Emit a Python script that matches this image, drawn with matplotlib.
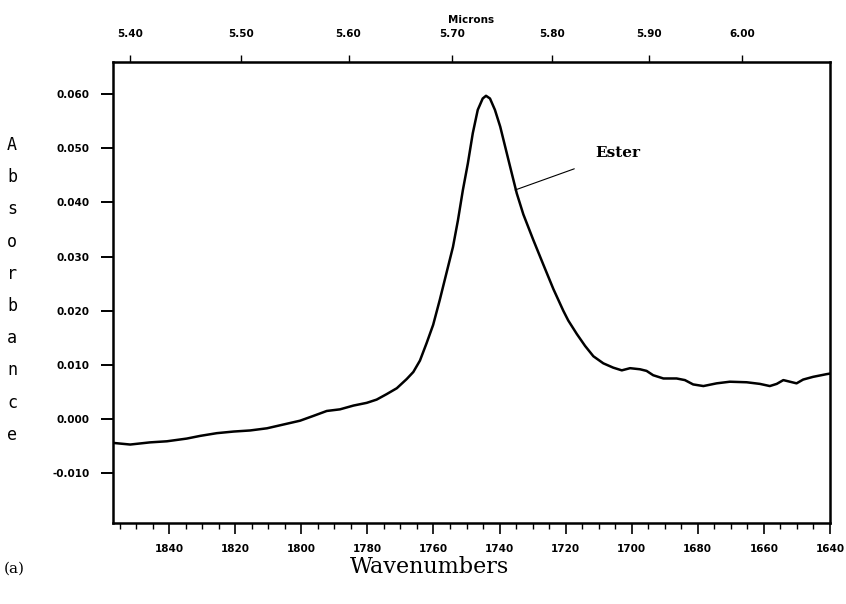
import matplotlib.pyplot as plt
from matplotlib.ticker import MultipleLocator

# spectrum
wavenumber = [1856.9, 1851.8, 1845.8, 1840.7, 1834.7, 1830.6, 1825.6, 1820.5,
              1815.5, 1810.4, 1805.4, 1800.4, 1796.3, 1792.3, 1788.3, 1784.2,
              1780.2, 1777.2, 1774.2, 1771.1, 1768.1, 1766.1, 1764.1, 1762.1,
              1760.1, 1758.1, 1756.1, 1754.1, 1752.6, 1751.1, 1749.6, 1748.1,
              1746.6, 1745.1, 1744.1, 1742.9, 1741.4, 1739.8, 1738.3, 1736.8,
              1734.8, 1732.8, 1729.8, 1726.8, 1723.7, 1720.7, 1719.2, 1716.6,
              1714.1, 1711.6, 1708.6, 1705.6, 1703.0, 1700.5, 1697.5, 1695.5,
              1693.5, 1690.4, 1686.4, 1683.9, 1681.4, 1678.3, 1674.3, 1670.3,
              1665.2, 1661.2, 1658.2, 1656.1, 1654.1, 1652.1, 1650.1, 1648.1,
              1645.1, 1641.0, 1640.0]
absorbance = [-0.0044, -0.0047, -0.0043, -0.0041, -0.0036, -0.0031, -0.0026,
              -0.0023, -0.0021, -0.0017, -0.0010, -0.0003, 0.0006, 0.0015,
              0.0018, 0.0025, 0.0030, 0.0036, 0.0046, 0.0057, 0.0074, 0.0087,
              0.0108, 0.0140, 0.0174, 0.0220, 0.0269, 0.0318, 0.0367, 0.0423,
              0.0472, 0.0528, 0.0571, 0.0592, 0.0597, 0.0592, 0.0571, 0.0540,
              0.0503, 0.0466, 0.0417, 0.0378, 0.0331, 0.0286, 0.0240, 0.0200,
              0.0182, 0.0157, 0.0135, 0.0116, 0.0103, 0.0095, 0.0090, 0.0094,
              0.0092, 0.0089, 0.0081, 0.0075, 0.0075, 0.0072, 0.0064, 0.0061,
              0.0066, 0.0069, 0.0068, 0.0065, 0.0061, 0.0065, 0.0072, 0.0069,
              0.0066, 0.0073, 0.0078, 0.0083, 0.0084]

wn_ticks = [1840, 1820, 1800, 1780, 1760, 1740, 1720, 1700, 1680, 1660, 1640]
abs_ticks = [-0.010, 0.000, 0.010, 0.020, 0.030, 0.040, 0.050, 0.060]
micron_ticks = [5.40, 5.50, 5.60, 5.70, 5.80, 5.90, 6.00]

tick_font = dict(family='DejaVu Sans', weight='bold', size=7.5)

fig = plt.figure(figsize=(8.46, 6.04), dpi=100)
ax = fig.add_axes([0.1336, 0.134, 0.8474, 0.763])

ax.plot(wavenumber, absorbance, color='black', linewidth=1.8,
        solid_joinstyle='round')

ax.set_xlim(1857, 1640)
ax.set_ylim(-0.0192, 0.0659)

ax.set_xticks(wn_ticks)
ax.set_xticklabels([str(t) for t in wn_ticks], fontdict=tick_font)
ax.xaxis.set_minor_locator(MultipleLocator(5))
ax.set_yticks(abs_ticks)
ax.set_yticklabels(['%.3f' % t for t in abs_ticks], fontdict=tick_font)

ax.tick_params(axis='x', which='major', direction='out', length=8, width=1.2, pad=7)
ax.tick_params(axis='x', which='minor', direction='out', length=4, width=1.0)
ax.tick_params(axis='y', which='major', direction='out', length=9, width=1.4, pad=8)
for s in ax.spines.values():
    s.set_linewidth(1.8)

# top axis in microns
top = ax.secondary_xaxis('top', functions=(lambda x: 1e4 / x, lambda x: 1e4 / x))
top.set_xticks(micron_ticks)
top.set_xticklabels(['%.2f' % t for t in micron_ticks], fontdict=tick_font)
top.tick_params(direction='out', length=5, width=1.0, pad=12)
top.set_xlabel('Microns', fontdict=tick_font, labelpad=4)

ax.annotate('Ester', xy=(1735.3, 0.0423), xytext=(1711, 0.0491),
            fontsize=11, family='DejaVu Serif', weight='bold', va='center',
            arrowprops=dict(arrowstyle='-', color='black', linewidth=0.8,
                            shrinkA=14, shrinkB=0))

# stacked y label
for i, ch in enumerate('Absorbance'):
    fig.text(0.0142, 1 - (145 + i * 32.2) / 604, ch, family='DejaVu Sans Mono',
             fontsize=12, ha='center', va='center')

fig.text(0.508, 1 - 567 / 604, 'Wavenumbers', family='DejaVu Serif',
         fontsize=16, ha='center', va='center')
fig.text(0.004, 1 - 569 / 604, '(a)', family='DejaVu Serif', fontsize=11,
         ha='left', va='center')

fig.savefig('out.png', dpi=100)
